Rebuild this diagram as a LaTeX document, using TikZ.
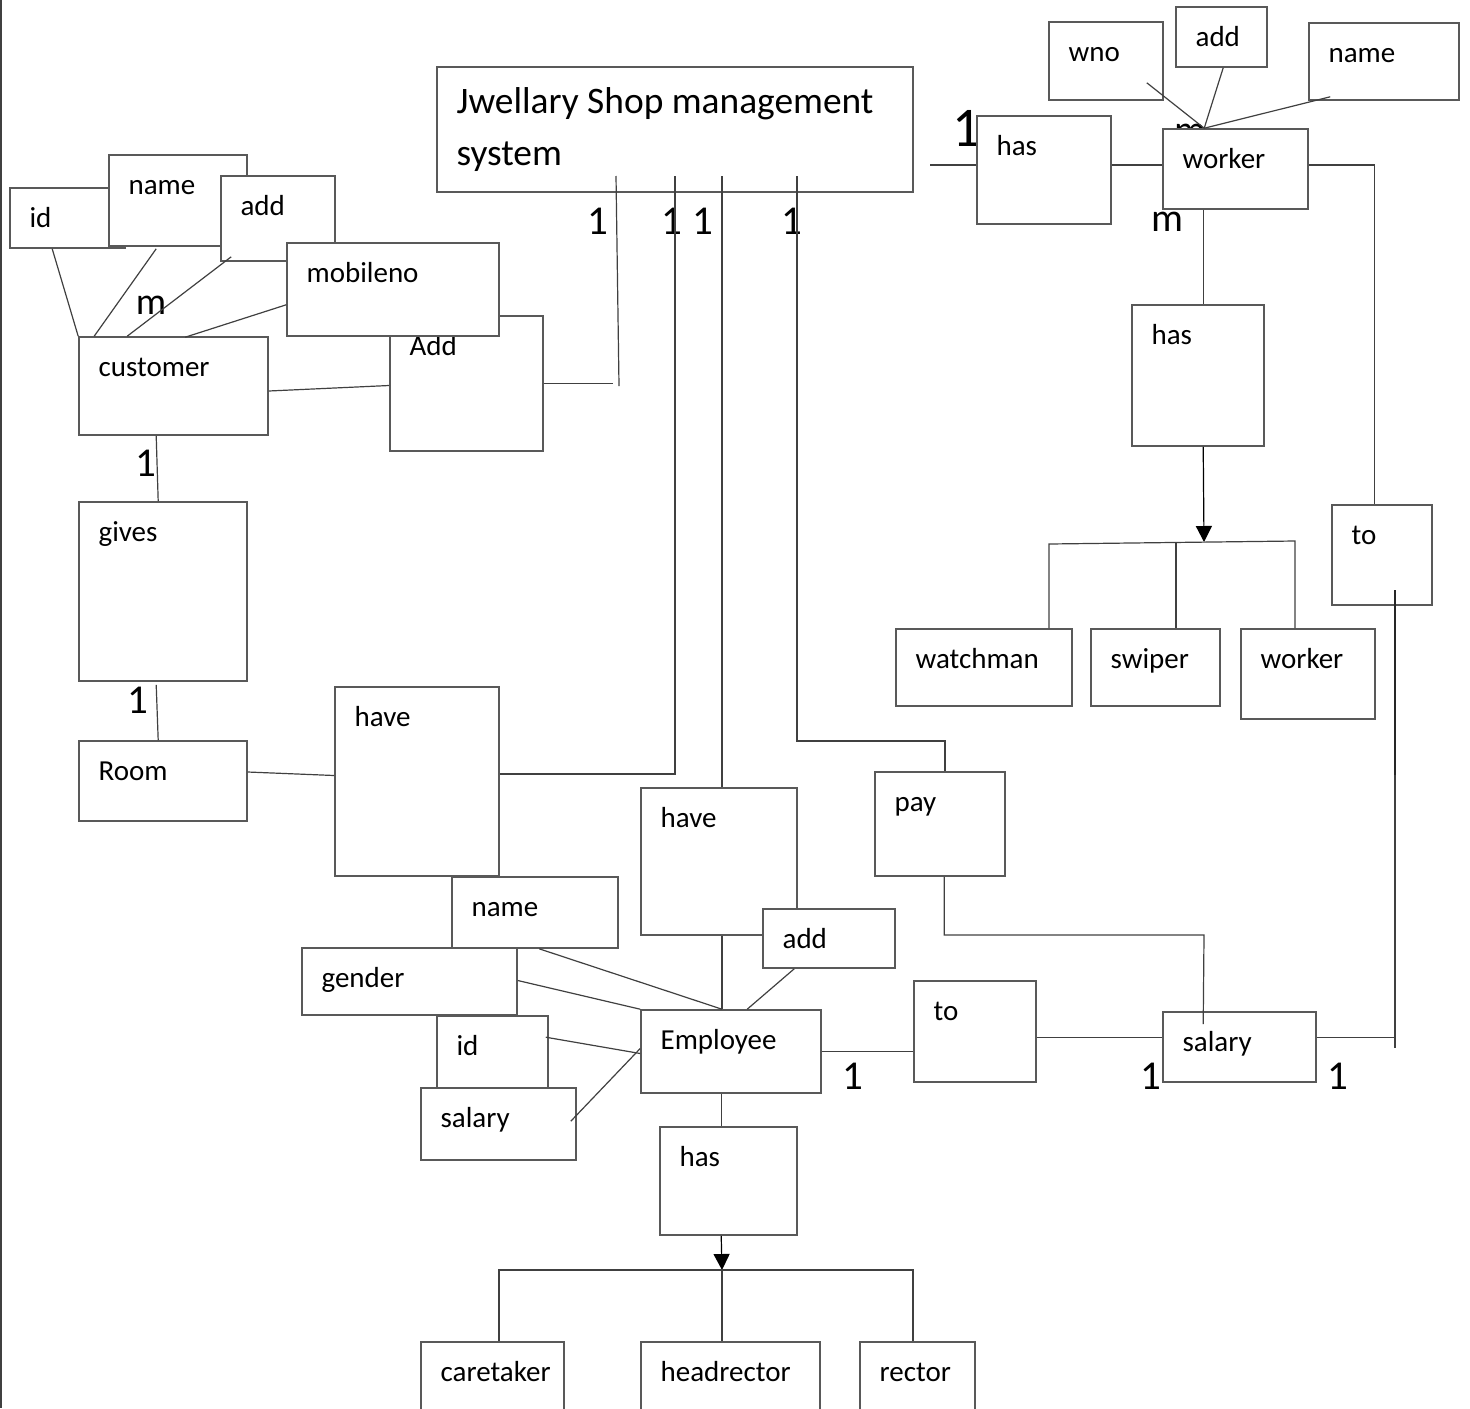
\documentclass[tikz,border=0pt]{standalone}
\usepackage{fontspec}
\setmainfont{Carlito}
\usepackage{tikz}
\usetikzlibrary{arrows.meta,positioning,calc,fit}
\definecolor{ErLine}{gray}{0.25}
\definecolor{ErBox}{gray}{0.35}

% one entity / relation box with its text in the upper left corner
\newcommand{\ebox}[4]{\node[ebox,fit={#2 #3},label={[elabel]north west:#4}] (#1) {};}

\begin{document}
\begin{tikzpicture}[x=0.5pt,y=-0.5pt,>={Triangle[length=8pt,width=8pt]},
  ebox/.style={draw=ErBox,fill=white,line width=0.8pt,inner sep=0pt},
  elabel/.style={anchor=base west,inner sep=0pt,xshift=10pt,yshift=-20pt,
    font=\fontsize{14.5}{17}\selectfont},
  card/.style={inner sep=0pt,font=\fontsize{20.5}{22}\selectfont},
  wire/.style={draw=ErLine,line width=0.6pt}]
  \useasboundingbox (0,0) rectangle (1470,1408);
  \draw[wire,line width=1pt] (1,0) -- (1,1408);

  % system box
  \node[ebox,fit={(437,67) (913,192)},
    label={[anchor=north west,inner sep=0pt,xshift=10pt,yshift=-10.5pt,align=left,
      font=\fontsize{18.7}{26}\selectfont]north west:Jwellary Shop management\\system}] (title) {};

  % worker side
  \node[card,font=\fontsize{28}{30}\selectfont] (c0) at (967,128) {1};
  \ebox{has1}{(977,116)}{(1111,224)}{has}
  \ebox{wno}{(1049,22)}{(1163,100)}{wno}
  \ebox{wadd}{(1176,7)}{(1267,67)}{add}
  \ebox{wname}{(1309,23)}{(1459,100)}{name}
  \node[card,font=\fontsize{20}{22}\selectfont] (m0) at (1190,134) {m};
  \ebox{worker}{(1163,129)}{(1308,209)}{worker}
  \node[card,font=\fontsize{20}{22}\selectfont] (m1) at (1167,222) {m};
  \ebox{has2}{(1132,305)}{(1264,446)}{has}
  \ebox{to1}{(1332,505)}{(1432,605)}{to}
  \ebox{watch}{(896,629)}{(1072,706)}{watchman}
  \ebox{swiper}{(1091,629)}{(1220,706)}{swiper}
  \ebox{wwork}{(1241,629)}{(1375,719)}{worker}

  % customer side
  \ebox{id}{(10,188)}{(125,248)}{id}
  \ebox{cname}{(109,155)}{(247,246)}{name}
  \ebox{cadd}{(221,176)}{(335,261)}{add}
  \ebox{addc}{(390,316)}{(543,451)}{Add}
  \ebox{mob}{(287,243)}{(499,336)}{mobileno}
  \ebox{cust}{(79,337)}{(268,435)}{customer}
  \ebox{gives}{(79,502)}{(247,681)}{gives}
  \ebox{room}{(79,741)}{(247,821)}{Room}
  \ebox{have1}{(335,687)}{(499,876)}{have}
  \node[card,font=\fontsize{19}{22}\selectfont] (m2) at (151,305) {m};
  \node[card] (c5) at (146,463) {1};
  \node[card] (c6) at (138,700) {1};

  % employee side
  \ebox{have2}{(641,788)}{(797,935)}{have}
  \ebox{pay}{(875,772)}{(1005,876)}{pay}
  \ebox{eadd}{(763,909)}{(895,968)}{add}
  \ebox{ename}{(452,877)}{(618,948)}{name}
  \ebox{eid}{(437,1016)}{(548,1088)}{id}
  \ebox{gender}{(302,948)}{(517,1015)}{gender}
  \ebox{esal}{(421,1088)}{(576,1160)}{salary}
  \ebox{emp}{(641,1010)}{(821,1093)}{Employee}
  \ebox{to2}{(914,981)}{(1036,1082)}{to}
  \ebox{sal}{(1163,1012)}{(1316,1082)}{salary}
  \ebox{has3}{(660,1127)}{(797,1235)}{has}
  \ebox{care}{(421,1342)}{(564,1420)}{caretaker}
  \ebox{head}{(641,1342)}{(820,1420)}{headrector}
  \ebox{rect}{(860,1342)}{(975,1420)}{rector}

  \node[card] (c1) at (598,221) {1};
  \node[card] (c2) at (672,221) {1};
  \node[card] (c3) at (703,221) {1};
  \node[card] (c4) at (792,221) {1};
  \node[card] (c7) at (853,1076) {1};
  \node[card] (c8) at (1151,1076) {1};
  \node[card] (c9) at (1338,1076) {1};

  % free ends and bends
  \coordinate (tr) at (930,165);
  \coordinate (t1) at (616,176);
  \coordinate (t2) at (675,176);
  \coordinate (t3) at (722,176);
  \coordinate (t4) at (797,176);
  \coordinate (a1) at (619,386);
  \coordinate (h1) at (675,774);
  \coordinate (pt) at (945,741);
  \coordinate (pk) at (1204,935);
  \coordinate (rv) at (1395,590);
  \coordinate (rm) at (1395,775);
  \coordinate (rb) at (1395,1048);
  \coordinate (wbar) at (1204,542);
  \coordinate (wbl) at (1049,544);
  \coordinate (wbm) at (1176,543);
  \coordinate (wbr) at (1295,541);
  \coordinate (ebar) at (722,1270);
  \coordinate (ebl) at (499,1270);
  \coordinate (ebr) at (913,1270);
  \coordinate (wtop) at ($(worker.north west)+(42,0)$);
  \coordinate (wb) at ($(worker.south west)+(41,0)$);
  \coordinate (eb) at ($(emp.south west)+(81,0)$);
  \coordinate (se) at ($(sal.north east)+(0,26)$);

  % worker connectors
  \draw[wire] (tr) -- (tr -| has1.west);
  \draw[wire] (has1.east |- tr) -- (worker.west |- tr);
  \draw[wire] (worker.east |- tr) -| ($(to1.north west)+(43,0)$);
  \draw[wire] ($(wno.south east)+(-17,-18)$) -- (wtop);
  \draw[wire] ($(wadd.south west)+(48,0)$) -- (wtop);
  \draw[wire] ($(wname.south west)+(22,-4)$) -- (wtop);
  \draw[wire] (wb) -- (wb |- has2.north);
  \draw[wire,->,draw=black] (wb |- has2.south) -- (wbar);
  \draw[wire] (watch.north -| wbl) -- (wbl) -- (wbr) -- (wbr |- wwork.north);
  \draw[wire] (wbm) -- (wbm |- swiper.north);
  \draw[wire] (rv) -- (rb);
  \draw[wire,line width=1pt,draw=black!85] (rv) -- (rm);
  \draw[wire] (se) -- (se -| rv);

  % customer connectors
  \draw[wire] ($(id.south west)+(43,0)$) -- (cust.north west);
  \draw[wire] ($(cname.south west)+(48,2)$) -- ($(cust.north west)+(16,0)$);
  \draw[wire] ($(cadd.south west)+(11,-5)$) -- ($(cust.north west)+(49,0)$);
  \draw[wire] ($(mob.south west)+(0,-32)$) -- ($(cust.north west)+(107,1)$);
  \draw[wire] ($(cust.east)+(0,5)$) -- ($(addc.west)+(0,2)$);
  \draw[wire] ($(cust.south west)+(78,0)$) -- ($(gives.north west)+(80,0)$);
  \draw[wire] ($(gives.south west)+(78,3)$) -- ($(room.north west)+(80,0)$);
  \draw[wire] ($(room.east)+(0,-9)$) -- ($(have1.west)+(0,-6)$);

  % from the system box
  \draw[wire] (t1) -- (a1);
  \draw[wire] (addc.east) -- ($(addc.east -| a1)+(-6,0)$);
  \draw[wire] (t2) -- (h1) -- (h1 -| have1.east);
  \draw[wire] (t3) -- (t3 |- have2.north);
  \draw[wire] (t3 |- have2.south) -- (t3 |- emp.north);
  \draw[wire] (t4) |- (pt) -- (pt |- pay.north);
  \draw[wire] ($(pay.south west)+(70,0)$) |- (pk) -- ($(sal.north west)+(41,13)$);

  % employee connectors
  \draw[wire] ($(ename.south west)+(88,0)$) -- (t3 |- emp.north);
  \draw[wire] ($(gender.east)+(0,-1)$) -- (emp.north west);
  \draw[wire] ($(eid.north east)+(-3,22)$) -- ($(emp.west)+(0,2)$);
  \draw[wire] ($(esal.north east)+(-6,34)$) -- ($(emp.west)+(0,-3)$);
  \draw[wire] ($(eadd.south west)+(32,0)$) -- ($(emp.north west)+(107,0)$);
  \draw[wire] (emp.east) -- (to2.west |- emp.east);
  \draw[wire] (to2.east |- se) -- (sal.west |- se);
  \draw[wire] (eb) -- (eb |- has3.north);
  \draw[wire,->,draw=black] (eb |- has3.south) -- (ebar);
  \draw[wire] (care.north -| ebl) -- (ebl) -- (ebr) -- (rect.north -| ebr);
  \draw[wire] (ebar) -- (ebar |- head.north);
\end{tikzpicture}
\end{document}
